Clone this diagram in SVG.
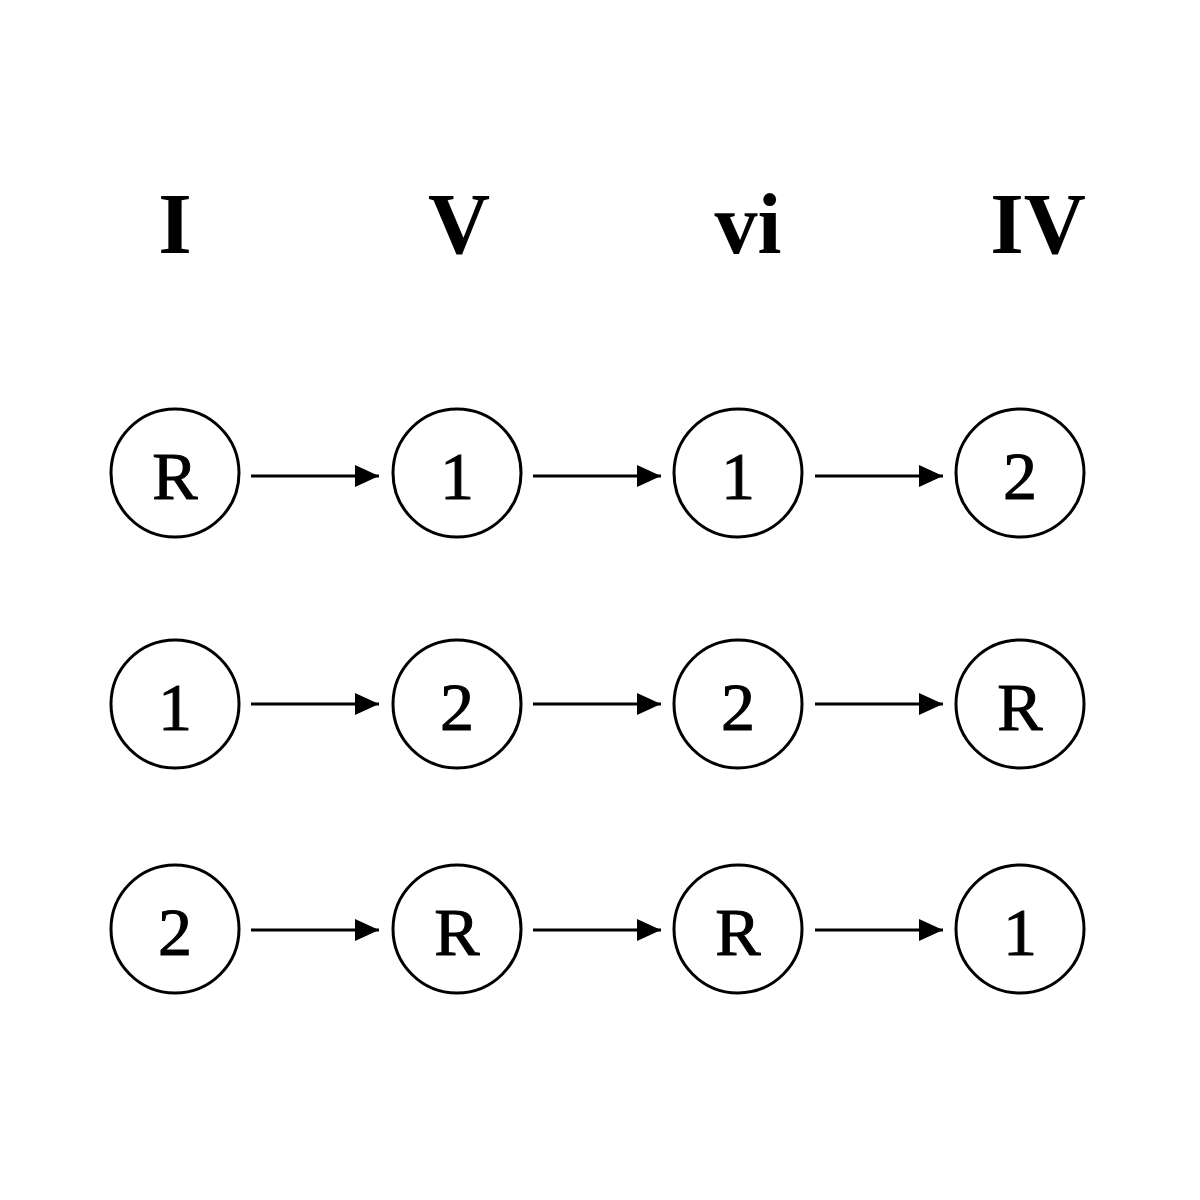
<svg xmlns="http://www.w3.org/2000/svg" width="1200" height="1200" viewBox="0 0 1200 1200">
<defs>
<style>
.bg{fill:#ffffff}
.node circle{fill:#ffffff;stroke:#000;stroke-width:3}
.lbl{font-family:"Liberation Serif","DejaVu Serif",serif;font-size:68px;fill:#000;stroke:#000;stroke-width:1;text-anchor:middle}
.hdr{font-family:"Liberation Serif","DejaVu Serif",serif;font-size:86px;font-weight:bold;fill:#000;text-anchor:middle}
.edge{stroke:#000;stroke-width:3;fill:none;marker-end:url(#ah)}
</style>
<marker id="ah" viewBox="0 0 24 22" refX="24" refY="11" markerWidth="24" markerHeight="22" markerUnits="userSpaceOnUse" orient="auto">
<path d="M0,0 L24,11 L0,22 Z" fill="#000"/>
</marker>
</defs>
<rect class="bg" width="1200" height="1200"/>
<g id="headers">
<text class="hdr" x="175" y="253">I</text>
<text class="hdr" x="459" y="253">V</text>
<text class="hdr" x="748" y="253">vi</text>
<text class="hdr" x="1038" y="253">IV</text>
</g>
<g id="connectors">
<line class="edge" x1="251" y1="476" x2="379" y2="476"/>
<line class="edge" x1="533" y1="476" x2="661" y2="476"/>
<line class="edge" x1="815" y1="476" x2="943" y2="476"/>
<line class="edge" x1="251" y1="704" x2="379" y2="704"/>
<line class="edge" x1="533" y1="704" x2="661" y2="704"/>
<line class="edge" x1="815" y1="704" x2="943" y2="704"/>
<line class="edge" x1="251" y1="930" x2="379" y2="930"/>
<line class="edge" x1="533" y1="930" x2="661" y2="930"/>
<line class="edge" x1="815" y1="930" x2="943" y2="930"/>
</g>
<g id="n11" class="node"><circle cx="175" cy="473" r="64"/><text class="lbl" x="175" y="499">R</text></g>
<g id="n12" class="node"><circle cx="457" cy="473" r="64"/><text class="lbl" x="457" y="499">1</text></g>
<g id="n13" class="node"><circle cx="738" cy="473" r="64"/><text class="lbl" x="738" y="499">1</text></g>
<g id="n14" class="node"><circle cx="1020" cy="473" r="64"/><text class="lbl" x="1020" y="499">2</text></g>
<g id="n21" class="node"><circle cx="175" cy="704" r="64"/><text class="lbl" x="175" y="730">1</text></g>
<g id="n22" class="node"><circle cx="457" cy="704" r="64"/><text class="lbl" x="457" y="730">2</text></g>
<g id="n23" class="node"><circle cx="738" cy="704" r="64"/><text class="lbl" x="738" y="730">2</text></g>
<g id="n24" class="node"><circle cx="1020" cy="704" r="64"/><text class="lbl" x="1020" y="730">R</text></g>
<g id="n31" class="node"><circle cx="175" cy="929" r="64"/><text class="lbl" x="175" y="955">2</text></g>
<g id="n32" class="node"><circle cx="457" cy="929" r="64"/><text class="lbl" x="457" y="955">R</text></g>
<g id="n33" class="node"><circle cx="738" cy="929" r="64"/><text class="lbl" x="738" y="955">R</text></g>
<g id="n34" class="node"><circle cx="1020" cy="929" r="64"/><text class="lbl" x="1020" y="955">1</text></g>
</svg>
